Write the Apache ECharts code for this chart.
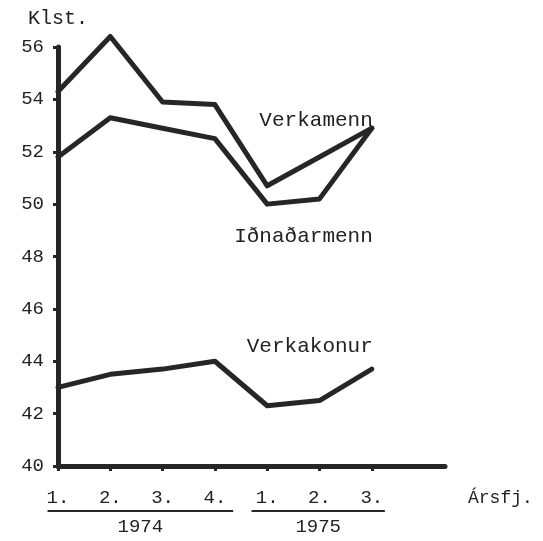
<!DOCTYPE html>
<html>
<head>
<meta charset="utf-8">
<script src="https://cdn.jsdelivr.net/npm/echarts@6/dist/echarts.min.js"></script>
<style>
html,body{margin:0;padding:0;background:#fff;}
#c{width:543px;height:541px;}
</style>
</head>
<body>
<div id="c"></div>
<script>
// ---- data ----
const quarterLabels = ['1.', '2.', '3.', '4.', '1.', '2.', '3.'];
const yearLabels = ['1974', '1975'];
const verkamenn = [54.3, 56.4, 53.9, 53.8, 50.7, 51.8, 52.9];
const idnadarmenn = [51.8, 53.3, 52.9, 52.5, 50.0, 50.2, 52.9];
const verkakonur = [43.0, 43.5, 43.7, 44.0, 42.3, 42.5, 43.7];
const seriesNames = ['Verkamenn', 'Iðnaðarmenn', 'Verkakonur'];
const yTickValues = [40, 42, 44, 46, 48, 50, 52, 54, 56];

const FONT = 'Liberation Mono';
const INK = '#262626';

const chart = echarts.init(document.getElementById('c'), null, {renderer: 'canvas'});

function toPoints(arr) { return arr.map((v, i) => [i, v]); }

const lineStyle = {color: INK, width: 5, join: 'round', cap: 'round'};

chart.setOption({
  animation: false,
  backgroundColor: '#fff',
  grid: {left: 58, right: 98, top: 47, bottom: 75, containLabel: false},
  xAxis: {
    type: 'value', min: 0, max: 7.4,
    axisLine: {show: true, lineStyle: {color: INK, width: 5}},
    axisTick: {show: true, customValues: [0, 1, 2, 3, 4, 5, 6], length: 5, lineStyle: {color: INK, width: 3}},
    axisLabel: {
      customValues: [0, 1, 2, 3, 4, 5, 6],
      formatter: v => quarterLabels[Math.round(v)] || '',
      margin: 22, fontFamily: FONT, fontSize: 19, color: '#222'
    },
    splitLine: {show: false}
  },
  yAxis: {
    type: 'value', min: yTickValues[0], max: yTickValues[yTickValues.length - 1], interval: 2,
    axisLine: {show: true, lineStyle: {color: INK, width: 5}},
    axisTick: {show: true, length: 5, lineStyle: {color: INK, width: 3}},
    axisLabel: {margin: 14, fontFamily: FONT, fontSize: 19, color: '#222'},
    splitLine: {show: false}
  },
  series: [
    {name: seriesNames[0], type: 'line', data: toPoints(verkamenn), symbol: 'none', clip: false, lineStyle},
    {name: seriesNames[1], type: 'line', data: toPoints(idnadarmenn), symbol: 'none', clip: false, lineStyle},
    {name: seriesNames[2], type: 'line', data: toPoints(verkakonur), symbol: 'none', clip: false, lineStyle}
  ]
});

// annotation layout (data-coordinate anchors)
const px = (x, y) => chart.convertToPixel({gridIndex: 0}, [x, y]);
const nameAnchors = [[6, 53.2], [6, 48.75], [6, 44.55]];
const yearRanges = [[-0.2, 3.35], [3.7, 6.25]];

const axisY = px(0, 40)[1];
const graphics = [];
graphics.push({type: 'text', left: 28, top: 9, style: {text: 'Klst.', font: '20px ' + FONT, fill: '#222'}});
nameAnchors.forEach((a, i) => {
  const p = px(a[0], a[1]);
  graphics.push({type: 'text', x: p[0] + 1, y: p[1], style: {text: seriesNames[i], font: '21px ' + FONT, fill: '#222', align: 'right', verticalAlign: 'middle'}});
});
yearRanges.forEach((r, i) => {
  const a = px(r[0], 40), b = px(r[1], 40);
  graphics.push({type: 'line', shape: {x1: a[0], y1: axisY + 45, x2: b[0], y2: axisY + 45}, style: {stroke: INK, lineWidth: 2}});
  graphics.push({type: 'text', x: (a[0] + b[0]) / 2, y: axisY + 61, style: {text: yearLabels[i], font: '19px ' + FONT, fill: '#222', align: 'center', verticalAlign: 'middle'}});
});
graphics.push({type: 'text', x: 468, y: axisY + 32, style: {text: 'Árs\u0066j.', font: '18px ' + FONT, fill: '#222', align: 'left', verticalAlign: 'middle'}});
chart.setOption({graphic: graphics});
</script>
</body>
</html>
